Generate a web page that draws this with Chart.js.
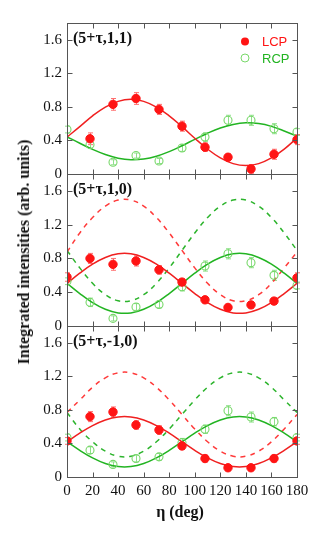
<!DOCTYPE html>
<html>
<head>
<meta charset="utf-8">
<script src="https://cdn.jsdelivr.net/npm/chart.js@4.4.0/dist/chart.umd.min.js"></script>
<style>
  body { margin: 0; background: #fff; }
  #wrap { position: relative; width: 332px; height: 538px; overflow: hidden; }
  #wrap canvas { position: absolute; left: 0; top: 0; }
  .title { position: absolute; font: bold 16px 'Liberation Serif', 'Times New Roman', serif; color: #111; white-space: nowrap; }
  #ytitle { left: 24px; top: 252px; transform: translate(-50%, -50%) rotate(-90deg); }
  #xtitle { left: 180px; top: 512px; transform: translate(-50%, -50%); }
</style>
</head>
<body>
<div id="wrap">
  <canvas id="panel1" width="332" height="538"></canvas>
  <canvas id="panel2" width="332" height="538"></canvas>
  <canvas id="panel3" width="332" height="538"></canvas>
  <div class="title" id="ytitle">Integrated intensities (arb. units)</div>
  <div class="title" id="xtitle">η (deg)</div>
</div>
<script>
// measured angles
const etaPts = [0, 18, 36, 54, 72, 90, 108, 126, 144, 162, 180];
const etaFit = [0, 10, 20, 30, 40, 50, 60, 70, 80, 90, 100, 110, 120, 130, 140, 150, 160, 170, 180];

const yTicks = [0, 0.4, 0.8, 1.2, 1.6];
const xTicks = [0, 20, 40, 60, 80, 100, 120, 140, 160, 180];

// (5+tau,1,1)
const lcp1 = [null, 0.42, 0.83, 0.90, 0.77, 0.57, 0.32, 0.20, 0.06, 0.235, 0.41];
const lcp1Err = [0, 0.07, 0.07, 0.07, 0.06, 0.06, 0.05, 0.04, 0.05, 0.06, 0.06];
const rcp1 = [0.53, 0.35, 0.14, 0.22, 0.155, 0.31, 0.44, 0.64, 0.64, 0.54, 0.50];
const rcp1Err = [0.04, 0.04, 0.03, 0.03, 0.03, 0.04, 0.05, 0.06, 0.06, 0.06, 0.04];
const lcpFit1 = [0.44, 0.564, 0.693, 0.798, 0.866, 0.89, 0.866, 0.798, 0.693, 0.564, 0.426, 0.297, 0.192, 0.124, 0.10, 0.124, 0.192, 0.297, 0.43];
const rcpFit1 = [0.443, 0.367, 0.294, 0.232, 0.189, 0.170, 0.179, 0.212, 0.267, 0.337, 0.413, 0.486, 0.548, 0.591, 0.610, 0.601, 0.568, 0.513, 0.45];

// (5+tau,1,0)
const lcp2 = [0.58, 0.80, 0.73, 0.77, 0.665, 0.52, 0.31, 0.22, 0.25, 0.295, 0.57];
const lcp2Err = [0.05, 0.06, 0.07, 0.06, 0.05, 0.04, 0.04, 0.03, 0.04, 0.04, 0.06];
const rcp2 = [0.53, 0.28, 0.09, 0.225, 0.255, 0.465, 0.71, 0.855, 0.75, 0.60, 0.48];
const rcp2Err = [0.04, 0.05, 0.03, 0.04, 0.04, 0.05, 0.06, 0.06, 0.06, 0.06, 0.04];
const lcpFit2 = [0.505, 0.626, 0.733, 0.812, 0.855, 0.855, 0.812, 0.733, 0.626, 0.505, 0.384, 0.277, 0.198, 0.155, 0.155, 0.198, 0.277, 0.384, 0.505];
const rcpFit2 = [0.505, 0.384, 0.277, 0.198, 0.155, 0.155, 0.198, 0.277, 0.384, 0.505, 0.626, 0.733, 0.812, 0.855, 0.855, 0.812, 0.733, 0.626, 0.505];
const lcpCalc2 = [0.875, 1.102, 1.284, 1.419, 1.491, 1.491, 1.419, 1.284, 1.102, 0.895, 0.688, 0.506, 0.371, 0.299, 0.299, 0.371, 0.506, 0.688, 0.875];
const rcpCalc2 = [0.895, 0.688, 0.506, 0.371, 0.299, 0.299, 0.371, 0.506, 0.688, 0.895, 1.102, 1.284, 1.419, 1.491, 1.491, 1.419, 1.284, 1.102, 0.895];

// (5+tau,-1,0)
const lcp3 = [0.43, 0.72, 0.775, 0.62, 0.56, 0.37, 0.22, 0.11, 0.11, 0.22, 0.43];
const lcp3Err = [0.04, 0.06, 0.06, 0.05, 0.05, 0.04, 0.04, 0.03, 0.03, 0.04, 0.04];
const rcp3 = [0.47, 0.32, 0.15, 0.22, 0.24, 0.41, 0.57, 0.79, 0.715, 0.66, 0.47];
const rcp3Err = [0.04, 0.04, 0.03, 0.04, 0.04, 0.05, 0.05, 0.06, 0.06, 0.05, 0.04];
const lcpFit3 = [0.42, 0.523, 0.613, 0.680, 0.716, 0.716, 0.680, 0.613, 0.523, 0.42, 0.317, 0.227, 0.160, 0.124, 0.124, 0.160, 0.227, 0.317, 0.42];
const rcpFit3 = [0.42, 0.317, 0.227, 0.160, 0.124, 0.124, 0.160, 0.227, 0.317, 0.42, 0.523, 0.613, 0.680, 0.716, 0.716, 0.680, 0.613, 0.523, 0.42];
const lcpCalc3 = [0.77, 0.918, 1.070, 1.182, 1.242, 1.242, 1.182, 1.070, 0.918, 0.745, 0.572, 0.420, 0.308, 0.248, 0.248, 0.308, 0.420, 0.572, 0.745];
const rcpCalc3 = [0.77, 0.572, 0.420, 0.308, 0.248, 0.248, 0.308, 0.420, 0.572, 0.745, 0.918, 1.070, 1.182, 1.242, 1.242, 1.182, 1.070, 0.918, 0.77];

const RED = '#ff1414';
const RED_LINE = '#f02020';
const RED_ERR = '#ff7070';
const GREEN = '#22b422';
const GREEN_PT = '#78d86a';
const GREEN_ERR = '#8fe08a';
const SERIF = "'Liberation Serif', 'Times New Roman', serif";
const SANS = "'Liberation Sans', Arial, sans-serif";

function pairs(xs, ys) {
    return xs.map((x, i) => ({ x: x, y: ys[i] }));
}

// frame, inward ticks, error bars, panel label and the little legend
const decorPlugin = {
    id: 'decor',
    beforeDatasetsDraw(chart) {
        const ctx = chart.ctx;
        chart.data.datasets.forEach((ds, i) => {
            if (!ds.errors) return;
            const meta = chart.getDatasetMeta(i);
            ctx.save();
            ctx.strokeStyle = ds.errColor;
            ctx.lineWidth = 1;
            meta.data.forEach((pt, j) => {
                const v = ds.data[j].y;
                if (v === null || !ds.errors[j]) return;
                const y1 = chart.scales.y.getPixelForValue(v - ds.errors[j]);
                const y2 = chart.scales.y.getPixelForValue(v + ds.errors[j]);
                const x = Math.round(pt.x) + 0.5;
                ctx.beginPath();
                ctx.moveTo(x, y1); ctx.lineTo(x, y2);
                ctx.moveTo(x - 2.5, y1); ctx.lineTo(x + 2.5, y1);
                ctx.moveTo(x - 2.5, y2); ctx.lineTo(x + 2.5, y2);
                ctx.stroke();
            });
            ctx.restore();
        });
    },
    afterDraw(chart, args, opts) {
        const ctx = chart.ctx;
        const a = chart.chartArea;
        const sx = chart.scales.x, sy = chart.scales.y;
        ctx.save();
        ctx.strokeStyle = '#555';
        ctx.lineWidth = 1;
        const L = Math.round(a.left) + 0.5, R = Math.round(a.right) + 0.5;
        const T = Math.round(a.top) + 0.5, B = Math.round(a.bottom) + 0.5;
        ctx.strokeRect(L, T, R - L, B - T);
        ctx.beginPath();
        sy.ticks.forEach(t => {
            const y = Math.round(sy.getPixelForValue(t.value)) + 0.5;
            ctx.moveTo(L, y); ctx.lineTo(L + 5, y);
            ctx.moveTo(R, y); ctx.lineTo(R - 5, y);
        });
        sx.ticks.forEach(t => {
            const x = Math.round(sx.getPixelForValue(t.value)) + 0.5;
            ctx.moveTo(x, B); ctx.lineTo(x, B - 5);
            ctx.moveTo(x, T); ctx.lineTo(x, T + 5);
        });
        ctx.stroke();

        ctx.fillStyle = '#111';
        ctx.font = 'bold 16px ' + SERIF;
        ctx.textBaseline = 'middle';
        ctx.fillText(opts.label, a.left + opts.labelDx, a.top + opts.labelDy);

        if (opts.legend) {
            ctx.font = '13px ' + SANS;
            const lx = 245, ly1 = 41.5, ly2 = 58;
            ctx.fillStyle = RED;
            ctx.beginPath(); ctx.arc(lx, ly1, 4, 0, Math.PI * 2); ctx.fill();
            ctx.fillText('LCP', 262, ly1 + 1);
            ctx.strokeStyle = GREEN_PT;
            ctx.beginPath(); ctx.arc(lx, ly2, 4, 0, Math.PI * 2); ctx.stroke();
            ctx.fillStyle = GREEN;
            ctx.fillText('RCP', 262, ly2 + 1);
        }
        ctx.restore();
    }
};

function makePanel(id, p) {
    const datasets = [
        { data: pairs(etaPts, p.lcp), errors: p.lcpErr, errColor: RED_ERR, showLine: false,
          pointRadius: 4.2, pointBackgroundColor: RED, pointBorderColor: RED, pointBorderWidth: 1 },
        { data: pairs(etaPts, p.rcp), errors: p.rcpErr, errColor: GREEN_ERR, showLine: false,
          pointRadius: 4, pointBackgroundColor: 'rgba(255,255,255,0)', pointBorderColor: GREEN_PT, pointBorderWidth: 1.1 },
        { data: pairs(etaFit, p.lcpFit), showLine: true, pointRadius: 0, borderColor: RED_LINE, borderWidth: 1.5, tension: 0.4 },
        { data: pairs(etaFit, p.rcpFit), showLine: true, pointRadius: 0, borderColor: GREEN, borderWidth: 1.5, tension: 0.4 }
    ];
    if (p.lcpCalc) {
        datasets.push({ data: pairs(etaFit, p.lcpCalc), showLine: true, pointRadius: 0, borderColor: '#ff3a3a',
            borderWidth: 1.5, borderDash: [5, 5], tension: 0.4 });
        datasets.push({ data: pairs(etaFit, p.rcpCalc), showLine: true, pointRadius: 0, borderColor: '#2cb42c',
            borderWidth: 1.5, borderDash: [5, 5], tension: 0.4 });
    }
    new Chart(document.getElementById(id), {
        type: 'scatter',
        data: { datasets: datasets },
        options: {
            responsive: false,
            animation: false,
            events: [],
            layout: { padding: { left: 27, right: 35, top: p.top, bottom: p.bottom } },
            plugins: {
                legend: { display: false },
                tooltip: { enabled: false },
                decor: { label: p.label, labelDx: 6, labelDy: 16, legend: p.legend }
            },
            scales: {
                x: {
                    type: 'linear', min: 0, max: 180,
                    afterBuildTicks: s => { s.ticks = xTicks.map(v => ({ value: v })); },
                    afterFit: s => { s.height = p.showX ? 24 : 0; },
                    grid: { display: false, drawTicks: false },
                    border: { display: false },
                    ticks: { display: p.showX, padding: 5, color: '#111', maxRotation: 0,
                             font: { family: SERIF, size: 15 } }
                },
                y: {
                    min: 0, max: 1.8,
                    afterBuildTicks: s => { s.ticks = yTicks.map(v => ({ value: v })); },
                    afterFit: s => { s.width = 40; },
                    grid: { display: false, drawTicks: false },
                    border: { display: false },
                    ticks: { padding: 5, color: '#111', font: { family: SERIF, size: 15 },
                             callback: v => v === 0 ? '0' : v.toFixed(1) }
                }
            }
        },
        plugins: [decorPlugin]
    });
}

makePanel('panel1', { lcp: lcp1, lcpErr: lcp1Err, rcp: rcp1, rcpErr: rcp1Err, lcpFit: lcpFit1, rcpFit: rcpFit1,
    label: '(5+τ,1,1)', legend: true, showX: false, top: 23, bottom: 538 - 174 });
makePanel('panel2', { lcp: lcp2, lcpErr: lcp2Err, rcp: rcp2, rcpErr: rcp2Err, lcpFit: lcpFit2, rcpFit: rcpFit2,
    lcpCalc: lcpCalc2, rcpCalc: rcpCalc2, label: '(5+τ,1,0)', legend: false, showX: false, top: 174, bottom: 538 - 326 });
makePanel('panel3', { lcp: lcp3, lcpErr: lcp3Err, rcp: rcp3, rcpErr: rcp3Err, lcpFit: lcpFit3, rcpFit: rcpFit3,
    lcpCalc: lcpCalc3, rcpCalc: rcpCalc3, label: '(5+τ,-1,0)', legend: false, showX: true, top: 326, bottom: 538 - 477 - 24 });
</script>
</body>
</html>
